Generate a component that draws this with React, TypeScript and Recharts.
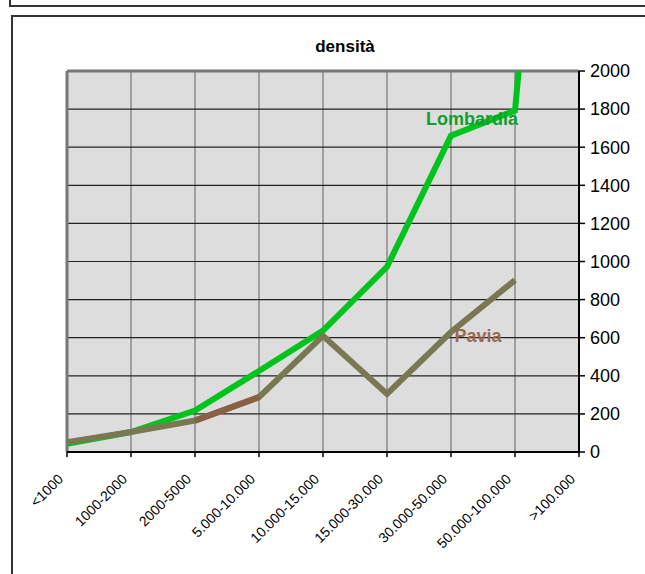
import React from 'react';
import {
  LineChart,
  Line,
  XAxis,
  YAxis,
  CartesianGrid,
  ReferenceLine,
  ReferenceDot
} from 'recharts';

const FONT = 'Liberation Sans, Arial, sans-serif';

const categories = [
  '<1000',
  '1000-2000',
  '2000-5000',
  '5.000-10.000',
  '10.000-15.000',
  '15.000-30.000',
  '30.000-50.000',
  '50.000-100.000',
  '>100.000'
];
const lombardia = [43, 105, 218, 425, 637, 972, 1661, 1792, 5400];
const pavia = [52, 105, 165, 288, 610, 305, 630, 902, null];
// segment of the Pavia line drawn in brown
const paviaBrownIdx = [2, 3];
const yTicks = [0, 200, 400, 600, 800, 1000, 1200, 1400, 1600, 1800, 2000];

const data = categories.map((cat, i) => ({
  cat,
  lombardia: lombardia[i],
  pavia: pavia[i],
  paviaBrown: paviaBrownIdx.includes(i) ? pavia[i] : null
}));

const XTick = (props: any) => {
  const { x, y, payload } = props;
  const tx = x - 3;
  const ty = y + 23;
  return (
    <text
      x={tx}
      y={ty}
      transform={`rotate(-45 ${tx} ${ty})`}
      textAnchor="end"
      fontSize={14}
      fontFamily={FONT}
      fill="#000"
    >
      {payload.value}
    </text>
  );
};

const seriesLabel = (text: string, color: string, dx: number) => (props: any) => {
  const { viewBox } = props;
  const cx = viewBox.x + viewBox.width / 2;
  const cy = viewBox.y + viewBox.height / 2;
  return (
    <text
      x={cx + dx}
      y={cy}
      textAnchor="middle"
      dominantBaseline="central"
      fontSize={18}
      fontWeight="bold"
      fontFamily={FONT}
      fill={color}
    >
      {text}
    </text>
  );
};

export default function App() {
  return (
    <div
      style={{
        position: 'absolute',
        left: 0,
        top: 0,
        width: 645,
        height: 574,
        overflow: 'hidden',
        background: '#fff',
        fontFamily: FONT
      }}
    >
      <div
        style={{
          position: 'absolute',
          left: 9,
          top: -20,
          width: 700,
          height: 27,
          boxSizing: 'border-box',
          border: '2px solid #333'
        }}
      />
      <div
        style={{
          position: 'absolute',
          left: 11,
          top: 15,
          width: 700,
          height: 700,
          boxSizing: 'border-box',
          border: '2px solid #333'
        }}
      />
      <div
        style={{
          position: 'absolute',
          left: 0,
          width: 690,
          top: 37,
          textAlign: 'center',
          fontSize: 17,
          fontWeight: 'bold'
        }}
      >
        densità
      </div>
      <div style={{ position: 'absolute', left: 0, top: 0 }}>
        <LineChart
          width={645}
          height={574}
          data={data}
          margin={{ top: 71, right: 0, left: 67, bottom: 0 }}
        >
          <CartesianGrid
            horizontal={false}
            vertical
            fill="#DDDDDD"
            stroke="#8a8a8a"
            strokeWidth={1.5}
          />
          <CartesianGrid
            vertical={false}
            horizontal
            stroke="#222"
            strokeWidth={1.2}
          />
          <XAxis
            dataKey="cat"
            height={122}
            interval={0}
            tick={<XTick />}
            tickSize={5}
            tickMargin={0}
            axisLine={{ stroke: '#000', strokeWidth: 2 }}
            tickLine={{ stroke: '#000', strokeWidth: 1.5 }}
          />
          <YAxis
            orientation="right"
            width={66}
            domain={[0, 2000]}
            ticks={yTicks}
            allowDataOverflow
            tickSize={6}
            tickMargin={5}
            tick={{ fontSize: 18, fill: '#000', fontFamily: FONT }}
            axisLine={{ stroke: '#000', strokeWidth: 2 }}
            tickLine={{ stroke: '#000', strokeWidth: 1.5 }}
          />
          <ReferenceLine y={2000} stroke="#777" strokeWidth={3} />
          <ReferenceLine x="<1000" stroke="#777" strokeWidth={3} />
          <Line
            type="linear"
            dataKey="lombardia"
            stroke="#00C41C"
            strokeWidth={6}
            dot={false}
            isAnimationActive={false}
          />
          <Line
            type="linear"
            dataKey="pavia"
            stroke="#7A7852"
            strokeWidth={6}
            dot={false}
            isAnimationActive={false}
          />
          <Line
            type="linear"
            dataKey="paviaBrown"
            stroke="#8A6045"
            strokeWidth={6}
            dot={false}
            connectNulls={false}
            isAnimationActive={false}
          />
          <ReferenceDot
            x="30.000-50.000"
            y={1750}
            r={0}
            stroke="none"
            fill="none"
            label={seriesLabel('Lombardia', '#109E2C', 21)}
          />
          <ReferenceDot
            x="30.000-50.000"
            y={609}
            r={0}
            stroke="none"
            fill="none"
            label={seriesLabel('Pavia', '#9A6A50', 27)}
          />
        </LineChart>
      </div>
    </div>
  );
}
